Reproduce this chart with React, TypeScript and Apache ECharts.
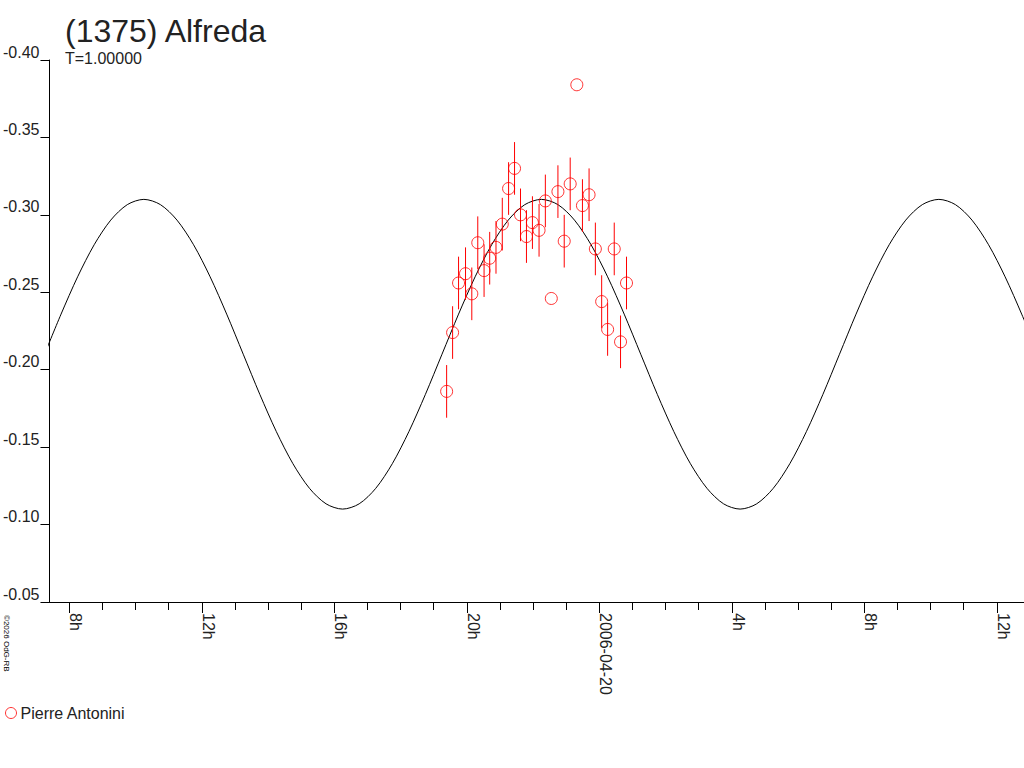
import React, { useEffect, useRef } from "react";
import * as echarts from "echarts";

// Hours counted from 2006-04-19 00:00 UT
const obsHours = [
  19.39, 19.57, 19.75, 19.96, 20.15, 20.33, 20.52, 20.69, 20.88, 21.07,
  21.26, 21.44, 21.62, 21.8, 21.98, 22.18, 22.37, 22.55, 22.75, 22.94,
  23.12, 23.32, 23.49, 23.69, 23.88, 24.07, 24.25, 24.45, 24.64, 24.82,
];
const obsMag = [
  -0.186, -0.224, -0.256, -0.262, -0.249, -0.282, -0.264, -0.272, -0.279, -0.294,
  -0.317, -0.33, -0.3, -0.286, -0.295, -0.29, -0.309, -0.246, -0.315, -0.283,
  -0.32, -0.384, -0.306, -0.313, -0.278, -0.244, -0.226, -0.278, -0.218, -0.256,
];
const obsErr = [
  0.017, 0.017, 0.017, 0.017, 0.017, 0.017, 0.017, 0.017, 0.017, 0.017,
  0.017, 0.017, 0.017, 0.017, 0.017, 0.017, 0.017, 0, 0.017, 0.017,
  0.017, 0, 0.017, 0.017, 0.017, 0.017, 0.017, 0.017, 0.017, 0.017,
];

// Fitted curve, every half hour from 7.25 h to 37.25 h
const curveStartHour = 7.25;
const curveStepHours = 0.5;
const curveMag = [
  -0.21, -0.2359, -0.26, -0.2807, -0.2966, -0.3066, -0.31, -0.3066, -0.2966, -0.2807,
  -0.26, -0.2359, -0.21, -0.1841, -0.16, -0.1393, -0.1234, -0.1134, -0.11, -0.1134,
  -0.1234, -0.1393, -0.16, -0.1841,
  -0.21, -0.2359, -0.26, -0.2807, -0.2966, -0.3066, -0.31, -0.3066, -0.2966, -0.2807,
  -0.26, -0.2359, -0.21, -0.1841, -0.16, -0.1393, -0.1234, -0.1134, -0.11, -0.1134,
  -0.1234, -0.1393, -0.16, -0.1841,
  -0.21, -0.2359, -0.26, -0.2807, -0.2966, -0.3066, -0.31, -0.3066, -0.2966, -0.2807,
  -0.26, -0.2359, -0.21,
];

const minorTickHours = [
  8, 9, 10, 11, 12, 13, 14, 15, 16, 17, 18, 19, 20, 21, 22, 23, 24, 25, 26, 27,
  28, 29, 30, 31, 32, 33, 34, 35, 36,
];
const majorTickHours = [8, 12, 16, 20, 24, 28, 32, 36];
const dateLabel = "2006-04-20";

const titleText = "(1375) Alfreda";
const subText = "T=1.00000";
const observer = "Pierre Antonini";
const copyright = "©2026 OdG-RB";

const FONT = "'Liberation Sans', Arial, sans-serif";
const TEXT = "#222";
const RED = "#ff0000";

export default function App() {
  const ref = useRef<HTMLDivElement>(null);
  useEffect(() => {
    if (!ref.current) return;
    const chart = echarts.init(ref.current, null, { renderer: "svg" });
    const obs = obsHours.map((h, i) => [h, obsMag[i], obsErr[i]]);
    const curve = curveMag.map((m, i) => [curveStartHour + i * curveStepHours, m]);
    const xBase = {
      type: "value",
      min: 7.4,
      max: 36.82,
      splitLine: { show: false },
    };
    chart.setOption({
      animation: false,
      backgroundColor: "#fff",
      textStyle: { fontFamily: FONT },
      title: [
        {
          text: titleText,
          left: 65,
          top: 15,
          padding: 0,
          textStyle: { fontFamily: FONT, fontSize: 32, fontWeight: "normal", color: TEXT },
        },
        {
          text: subText,
          left: 65,
          top: 50,
          padding: 0,
          textStyle: { fontFamily: FONT, fontSize: 16, fontWeight: "normal", color: TEXT },
        },
      ],
      legend: {
        data: [{ name: observer, icon: "circle" }],
        left: 5,
        top: 705,
        padding: 0,
        itemWidth: 11,
        itemHeight: 11,
        itemGap: 4,
        itemStyle: { borderWidth: 1, color: "rgba(255,255,255,0)", borderColor: RED },
        textStyle: { fontFamily: FONT, fontSize: 16, color: TEXT, padding: [0, 0, 0, -1] },
      },
      graphic: [
        {
          type: "text",
          x: 2,
          y: 615,
          rotation: -Math.PI / 2,
          style: {
            text: copyright,
            fontSize: 8,
            fontFamily: FONT,
            fill: "#000",
            textAlign: "left",
            textVerticalAlign: "bottom",
          },
        },
      ],
      grid: { left: 45, right: 0, top: 60, bottom: 166, containLabel: false },
      xAxis: [
        {
          ...xBase,
          axisLine: { show: true, onZero: false, lineStyle: { color: "#000", width: 1 } },
          axisTick: {
            show: true,
            inside: false,
            length: 8,
            customValues: minorTickHours,
            lineStyle: { color: "#000" },
          },
          axisLabel: {
            show: true,
            customValues: majorTickHours,
            rotate: -90,
            margin: 11,
            verticalAlign: "bottom",
            lineHeight: 13,
            fontFamily: FONT,
            fontSize: 16,
            color: TEXT,
            formatter: (v: number) => (v === 24 ? dateLabel : `${v % 24}h`),
          },
        },
        {
          ...xBase,
          position: "bottom",
          gridIndex: 0,
          axisLine: { show: false },
          axisTick: {
            show: true,
            inside: false,
            length: 11,
            customValues: majorTickHours,
            lineStyle: { color: "#000" },
          },
          axisLabel: { show: false },
        },
      ],
      yAxis: {
        type: "value",
        inverse: true,
        min: -0.4,
        max: -0.05,
        interval: 0.05,
        splitLine: { show: false },
        axisLine: { show: true, onZero: false, lineStyle: { color: "#000", width: 1 } },
        axisTick: { show: true, length: 9, lineStyle: { color: "#000" } },
        axisLabel: {
          margin: 10,
          align: "right",
          verticalAlign: "bottom",
          fontFamily: FONT,
          fontSize: 16,
          color: TEXT,
          formatter: (v: number) => v.toFixed(2),
        },
      },
      series: [
        {
          name: "fit",
          type: "line",
          data: curve,
          smooth: 0.3,
          showSymbol: false,
          symbol: "none",
          clip: true,
          lineStyle: { color: "#000", width: 1 },
          z: 2,
          silent: true,
        },
        {
          name: "errors",
          type: "custom",
          data: obs,
          z: 3,
          silent: true,
          renderItem: (params: any, api: any) => {
            const x = api.value(0);
            const y = api.value(1);
            const e = api.value(2);
            if (!e) return null;
            const p1 = api.coord([x, y - e]);
            const p2 = api.coord([x, y + e]);
            return {
              type: "line",
              shape: { x1: p1[0], y1: p1[1], x2: p2[0], y2: p2[1] },
              style: { stroke: RED, lineWidth: 1 },
            };
          },
        },
        {
          name: observer,
          type: "scatter",
          data: obs.map((d) => [d[0], d[1]]),
          symbol: "circle",
          symbolSize: 12,
          itemStyle: { color: "rgba(255,255,255,0)", borderColor: RED, borderWidth: 1 },
          z: 4,
        },
      ],
    });
    return () => chart.dispose();
  }, []);
  return (
    <div
      ref={ref}
      style={{ position: "fixed", left: 0, top: 0, width: 1024, height: 768, background: "#fff" }}
    />
  );
}
